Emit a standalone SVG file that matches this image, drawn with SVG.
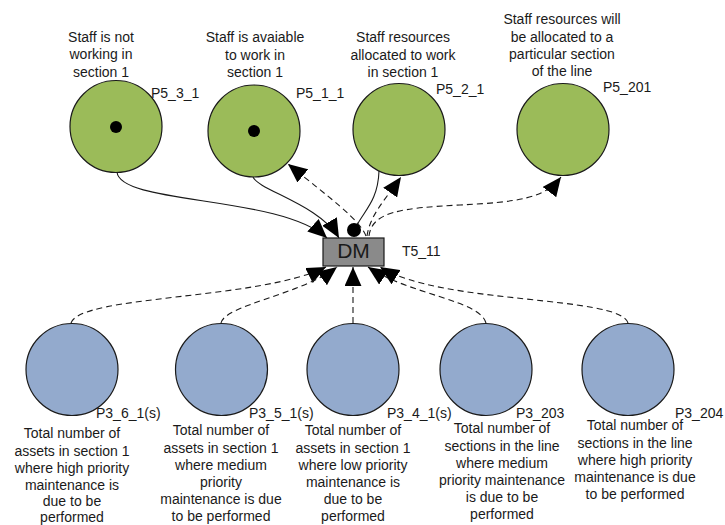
<svg xmlns="http://www.w3.org/2000/svg" width="725" height="525" viewBox="0 0 725 525">
<style>
text{font-family:"Liberation Sans",Arial,sans-serif;font-size:14px;fill:#1a1a1a}
.lbl{text-anchor:middle}
.g{fill:#9bbb59;stroke:#1a1a1a;stroke-width:1.2}
.b{fill:#93aacd;stroke:#1a1a1a;stroke-width:1.2}
.c{fill:none;stroke:#1a1a1a;stroke-width:1.1}
.d{stroke-dasharray:6,4}
</style>
<defs>
<marker id="ah" markerUnits="userSpaceOnUse" viewBox="0 0 18 16" markerWidth="19" markerHeight="17" refX="18" refY="8" orient="auto">
<path d="M0,0 L18,8 L0,16 z" fill="#000"/>
</marker>
</defs>
<rect width="725" height="525" fill="#fff"/>
<g id="connectors">
<path class="c" d="M117,172 C120,205 280,195 327,238" marker-end="url(#ah)"/>
<path class="c" d="M253,177 C258,190 320,205 339,238" marker-end="url(#ah)"/>
<path class="c d" d="M366,236 C360,220 330,198 288,164" marker-end="url(#ah)"/>
<path class="c" d="M379,171 C378,200 365,210 357,225"/>
<circle cx="354" cy="230" r="7" fill="#000"/>
<path class="c d" d="M367,236 C370,215 385,200 401,177" marker-end="url(#ah)"/>
<path class="c d" d="M369,236 C372,212 400,208 460,205 C520,202 545,198 561,177" marker-end="url(#ah)"/>
<path class="c d" d="M71,323 C80,295 260,300 326,267" marker-end="url(#ah)"/>
<path class="c d" d="M221,323 C225,305 300,295 337,267" marker-end="url(#ah)"/>
<path class="c d" d="M353,323 L353,267" marker-end="url(#ah)"/>
<path class="c d" d="M486,323 C480,300 410,295 368,267" marker-end="url(#ah)"/>
<path class="c d" d="M628,323 C620,295 440,305 380,267" marker-end="url(#ah)"/>
</g>
<g id="T5_11">
<rect x="323" y="238" width="61" height="28" fill="#8a8a8a" stroke="#1a1a1a" stroke-width="1.2"/>
<text x="353.5" y="258" class="lbl" style="font-size:21px">DM</text>
<text x="402" y="256">T5_11</text>
</g>
<g id="P5_3_1">
<circle class="g" cx="116" cy="126.5" r="46"/>
<circle cx="116" cy="127" r="6" fill="#000"/>
<text class="lbl" x="101" y="41.5">Staff is not</text>
<text class="lbl" x="101" y="59">working in</text>
<text class="lbl" x="101" y="76.5">section 1</text>
<text x="151" y="98">P5_3_1</text>
</g>
<g id="P5_1_1">
<circle class="g" cx="254" cy="131" r="46"/>
<circle cx="254" cy="131" r="6" fill="#000"/>
<text class="lbl" x="255" y="42">Staff is avaiable</text>
<text class="lbl" x="255" y="59.5">to work in</text>
<text class="lbl" x="255" y="77">section 1</text>
<text x="296" y="98">P5_1_1</text>
</g>
<g id="P5_2_1">
<circle class="g" cx="399" cy="129.5" r="46"/>
<text class="lbl" x="403" y="42">Staff resources</text>
<text class="lbl" x="403" y="59.5">allocated to work</text>
<text class="lbl" x="403" y="77">in section 1</text>
<text x="436" y="94">P5_2_1</text>
</g>
<g id="P5_201">
<circle class="g" cx="563" cy="129.5" r="46"/>
<text class="lbl" x="562" y="24">Staff resources will</text>
<text class="lbl" x="562" y="41.5">be allocated to a</text>
<text class="lbl" x="562" y="58.5">particular section</text>
<text class="lbl" x="562" y="75.5">of the line</text>
<text x="603" y="92">P5_201</text>
</g>
<g id="P3_6_1s">
<circle class="b" cx="72" cy="369.5" r="46"/>
<text x="96" y="418">P3_6_1(s)</text>
<text class="lbl" x="72" y="438">Total number of</text>
<text class="lbl" x="72" y="455.5">assets in section 1</text>
<text class="lbl" x="72" y="472.5">where high priority</text>
<text class="lbl" x="72" y="489.5">maintenance is</text>
<text class="lbl" x="72" y="506">due to be</text>
<text class="lbl" x="72" y="522">performed</text>
</g>
<g id="P3_5_1s">
<circle class="b" cx="221.5" cy="369.5" r="46"/>
<text x="249" y="418">P3_5_1(s)</text>
<text class="lbl" x="221" y="435">Total number of</text>
<text class="lbl" x="221" y="452.5">assets in section 1</text>
<text class="lbl" x="221" y="470">where medium</text>
<text class="lbl" x="221" y="487">priority</text>
<text class="lbl" x="221" y="504">maintenance is due</text>
<text class="lbl" x="221" y="521">to be performed</text>
</g>
<g id="P3_4_1s">
<circle class="b" cx="353" cy="369.5" r="46"/>
<text x="387" y="418">P3_4_1(s)</text>
<text class="lbl" x="353" y="435">Total number of</text>
<text class="lbl" x="353" y="452.5">assets in section 1</text>
<text class="lbl" x="353" y="470">where low priority</text>
<text class="lbl" x="353" y="487">maintenance is</text>
<text class="lbl" x="353" y="504">due to be</text>
<text class="lbl" x="353" y="521">performed</text>
</g>
<g id="P3_203">
<circle class="b" cx="486" cy="369.5" r="46"/>
<text x="516" y="418">P3_203</text>
<text class="lbl" x="502" y="433">Total number of</text>
<text class="lbl" x="502" y="450.5">sections in the line</text>
<text class="lbl" x="502" y="468">where medium</text>
<text class="lbl" x="502" y="485">priority maintenance</text>
<text class="lbl" x="502" y="502">is due to be</text>
<text class="lbl" x="502" y="519">performed</text>
</g>
<g id="P3_204">
<circle class="b" cx="628" cy="369.5" r="46"/>
<text x="675" y="418">P3_204</text>
<text class="lbl" x="635" y="430">Total number of</text>
<text class="lbl" x="635" y="447.5">sections in the line</text>
<text class="lbl" x="635" y="465">where high priority</text>
<text class="lbl" x="635" y="482">maintenance is due</text>
<text class="lbl" x="635" y="499">to be performed</text>
</g>
</svg>
